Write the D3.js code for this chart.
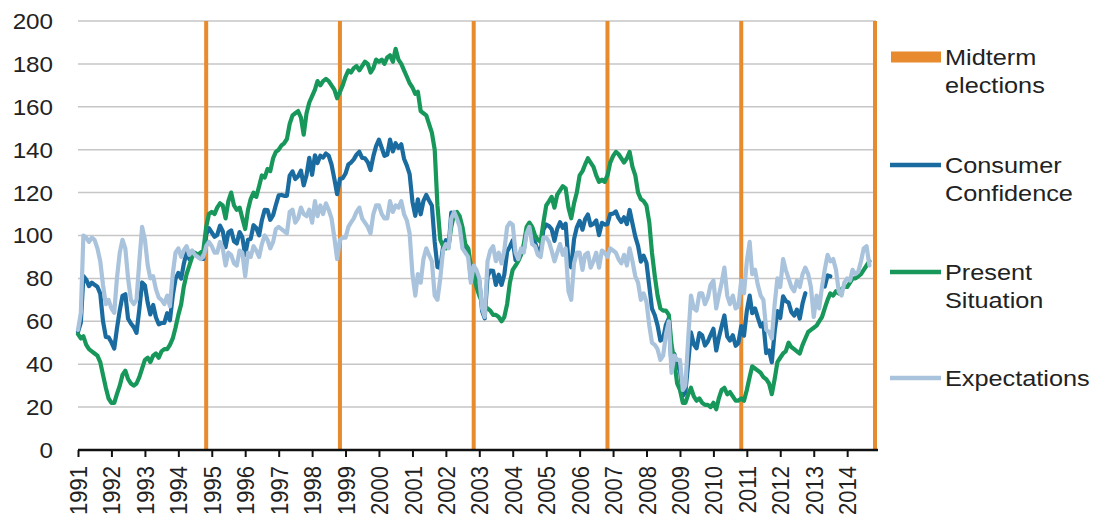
<!DOCTYPE html>
<html>
<head>
<meta charset="utf-8">
<script src="https://cdn.jsdelivr.net/npm/d3@7"></script>
<style>
  body { margin: 0; background: #fff; }
  svg { display: block; }
  text { font-family: "Liberation Sans", Arial, sans-serif; fill: #222; }
</style>
</head>
<body>
<svg id="chart" width="1095" height="523"></svg>
<script>
// Monthly index readings, January 1991 onwards (one row per year).
const firstYear = 1991;

const consumerConfidence = [
  55.1, 59.4, 81.1, 79.4, 76.4, 78.0, 77.0, 76.1, 72.9, 60.1, 52.7, 52.5,
  50.2, 47.3, 56.5, 65.1, 71.9, 72.6, 61.2, 59.0, 57.3, 54.6, 65.6, 78.1,
  76.7, 68.5, 63.2, 67.6, 61.9, 58.6, 59.2, 59.3, 63.8, 60.5, 71.9, 79.8,
  82.6, 79.9, 86.7, 92.1, 88.9, 92.5, 91.3, 90.4, 89.5, 89.1, 100.4, 103.4,
  101.4, 99.4, 100.2, 104.6, 102.0, 94.6, 101.4, 102.4, 97.3, 96.3, 101.6, 99.2,
  91.0, 98.0, 98.4, 104.8, 103.5, 100.1, 107.0, 112.0, 111.8, 107.3, 109.5, 114.2,
  118.7, 118.9, 118.5, 118.5, 127.9, 129.9, 126.3, 127.6, 130.2, 123.4, 128.1, 136.2,
  128.3, 137.4, 133.8, 137.2, 136.3, 138.2, 137.2, 133.1, 126.4, 119.3, 126.4, 126.7,
  128.9, 133.1, 134.0, 135.5, 137.7, 139.0, 136.2, 136.0, 134.2, 130.5, 137.0, 141.7,
  144.7, 140.8, 137.1, 137.7, 144.7, 139.2, 143.0, 140.8, 142.5, 135.8, 132.6, 128.6,
  115.7, 109.2, 116.9, 109.9, 116.1, 118.9, 116.3, 114.0, 97.0, 85.3, 84.9, 94.6,
  97.8, 95.0, 110.7, 108.5, 110.3, 106.3, 97.4, 94.5, 93.7, 79.6, 84.9, 80.3,
  78.8, 64.8, 61.4, 81.0, 83.6, 83.5, 77.0, 81.7, 77.0, 81.7, 92.5, 94.8,
  97.7, 88.5, 88.5, 93.0, 93.1, 102.8, 105.7, 98.7, 96.7, 92.9, 92.6, 102.7,
  105.1, 104.4, 103.0, 97.5, 103.1, 106.2, 103.6, 105.5, 87.5, 85.2, 98.3, 103.8,
  106.8, 102.7, 107.5, 109.8, 104.7, 105.4, 107.0, 100.2, 105.9, 105.1, 105.3, 110.0,
  110.2, 111.2, 108.2, 106.3, 108.5, 105.3, 111.9, 105.6, 99.5, 95.2, 87.8, 90.6,
  87.3, 76.4, 65.9, 62.8, 58.1, 51.0, 51.9, 58.5, 61.4, 38.8, 44.7, 38.6,
  37.4, 25.3, 26.9, 40.8, 54.8, 49.3, 47.4, 54.5, 53.4, 48.7, 50.6, 53.6,
  56.5, 46.4, 52.3, 57.7, 62.7, 52.9, 51.0, 53.5, 48.6, 49.9, 57.8, 53.3,
  64.8, 72.0, 63.8, 66.0, 61.7, 57.6, 59.2, 45.2, 46.4, 40.9, 55.2, 64.8,
  61.5, 71.6, 69.5, 68.7, 64.4, 62.7, 65.4, 61.3, 68.4, 73.1, null, null,
  null, null, null, null, 76.2, 81.4, 81.0, null, null, null, null, null,
  null, null, null, null, null, null, null, null, null
];

const presentSituation = [
  54, 52, 53, 49, 47, 46, 45, 44, 41, 35, 29, 24,
  22, 22, 26, 30, 35, 37, 33, 31, 30, 31, 34, 38,
  42, 43, 41, 44, 45, 43, 46, 47, 47, 49, 52, 57,
  63, 68, 76, 82, 86, 90, 92, 91, 92, 93, 104, 110,
  111, 110, 113, 115, 114, 108, 116, 120, 114, 112, 113, 108,
  103, 112, 117, 120, 118, 123, 128, 127, 131, 130, 136, 139,
  140, 142, 143, 145, 152, 156, 157, 158, 155, 147, 157, 162,
  165, 168, 172, 170, 172, 173, 172, 170, 168, 164, 167, 170,
  174, 177, 176, 178, 179, 177, 179, 181, 180, 176, 178, 182,
  181, 182, 180, 183, 184, 181, 187, 182, 180, 177, 174, 171,
  169, 166, 167, 158, 157, 156, 152, 148, 140, 114, 98, 95,
  94, 96, 104, 110, 111, 109, 104, 96, 94, 86, 82, 76,
  72, 69, 67, 66, 65, 63, 63, 62, 60, 62, 68, 78,
  84, 86, 88, 91, 96, 104, 106, 104, 100, 98, 97, 106,
  114, 116, 118, 113, 119, 121, 123, 122, 113, 108, 115, 120,
  128, 130, 133, 136, 134, 132, 128, 125, 126, 125, 128, 134,
  137, 139, 138, 136, 134, 136, 139, 132, 128, 120, 117, 116,
  114, 106, 92, 81, 72, 66, 65, 65, 63, 49, 41, 31,
  28, 22, 22, 26, 29, 25, 23, 24, 22, 21, 21, 20,
  22, 19, 24, 28, 29, 26, 27, 25, 23, 23, 24, 23,
  28, 34, 39, 38, 37, 36, 34, 33, 31, 26, 33, 41,
  43, 45, 46, 50, 48, 47, 46, 45, 49, 52, 55, 56,
  57, 58, 60, 62, 66, 70, 73, 72, 74, 73, 75, 76,
  76, 78, 80, 80, 81, 82, 84, 86, 88
];

const expectations = [
  56, 64, 100, 99, 97, 99, 98, 94, 88, 77, 68, 70,
  66, 64, 80, 92, 98, 94, 80, 70, 68, 70, 88, 104,
  98, 86, 80, 81, 75, 71, 70, 68, 72, 67, 82, 92,
  94, 90, 93, 95, 91, 93, 91, 90, 89, 90, 95, 97,
  95, 92, 92, 97, 94, 86, 92, 91, 87, 86, 93, 92,
  81, 92, 90, 95, 93, 90, 96, 100, 98, 94, 97, 103,
  104, 103, 102, 101, 111, 112, 106, 108, 113, 110, 109, 112,
  106, 116, 109, 114, 110, 115, 112, 108, 99, 89, 98, 99,
  99, 104, 106, 108, 111, 113, 108, 106, 104, 101, 110, 114,
  114, 110, 108, 108, 116, 111, 114, 113, 116, 110, 107, 101,
  82, 72, 82, 78, 89, 94, 91, 88, 72, 70, 80, 93,
  96, 94, 108, 111, 108, 104, 94, 92, 90, 78, 86, 84,
  80, 66, 62, 88, 93, 95, 88, 92, 87, 93, 104, 106,
  105, 92, 89, 94, 92, 101, 104, 96, 95, 91, 90, 99,
  99, 97, 93, 88, 92, 96, 91, 94, 74, 70, 87, 92,
  92, 84, 91, 92, 85, 88, 92, 85, 93, 92, 90, 94,
  93, 92, 89, 87, 91, 86, 94, 88, 81, 78, 70, 73,
  69, 58, 50, 49, 47, 42, 44, 54, 60, 36, 44, 42,
  42, 28, 30, 52, 72, 66, 65, 73, 73, 68, 71, 77,
  79, 66, 72, 78, 85, 72, 68, 72, 66, 67, 79, 73,
  88, 97, 82, 84, 77, 72, 70, 56, 55, 52, 68, 80,
  76, 89, 84, 80, 76, 74, 79, 76, 82, 85, 82, 76,
  62, 72, 66, 76, 84, 91, 88, 89, 84, 74, 72, 78,
  80, 79, 84, 82, 83, 88, 94, 95, 86
];

// Months of the US midterm elections
const midtermElections = ["1994-11", "1998-11", "2002-11", "2006-11", "2010-11", "2014-11"];

const yearTicks = [1991, 1992, 1993, 1994, 1995, 1996, 1997, 1998, 1999, 2000, 2001, 2002,
                   2003, 2004, 2005, 2006, 2007, 2008, 2009, 2010, 2011, 2012, 2013, 2014];
const valueTicks = [0, 20, 40, 60, 80, 100, 120, 140, 160, 180, 200];

const seriesNames = ["Consumer Confidence", "Present Situation", "Expectations"];
const seriesColors = ["#1a6b9f", "#17985a", "#a9c3dc"];
const midtermColor = "#e88a2e";

const svg = d3.select("#chart");
const parseMonth = d3.timeParse("%Y-%m");

const x = d3.scaleTime()
  .domain([new Date(1991, 0, 1), new Date(2014, 10, 1)])
  .range([78, 875]);
const y = d3.scaleLinear().domain([0, 200]).range([450, 21]);

const monthDate = i => new Date(firstYear, i, 1);

// Horizontal gridlines
svg.append("g")
  .selectAll("line")
  .data(valueTicks.filter(v => v > 0))
  .join("line")
  .attr("x1", 78).attr("x2", 876)
  .attr("y1", d => y(d)).attr("y2", d => y(d))
  .attr("stroke", "#c6c6c6").attr("stroke-width", 1.5);

// Y-axis labels (slightly wide face)
svg.append("g")
  .selectAll("text")
  .data(valueTicks)
  .join("text")
  .attr("transform", d => `translate(53,${y(d)}) scale(1.1,1)`)
  .attr("dy", "0.36em")
  .attr("text-anchor", "end")
  .attr("font-size", 22)
  .text(d => d);

// Midterm election markers
svg.append("g")
  .selectAll("line")
  .data(midtermElections.map(parseMonth))
  .join("line")
  .attr("x1", d => x(d)).attr("x2", d => x(d))
  .attr("y1", y(200)).attr("y2", y(0))
  .attr("stroke", midtermColor).attr("stroke-width", 4);

// Series lines
const seriesData = [consumerConfidence, presentSituation, expectations];
const line = d3.line()
  .defined(d => d != null)
  .x((d, i) => x(monthDate(i)))
  .y(d => y(d));

svg.append("g")
  .selectAll("path")
  .data(seriesData)
  .join("path")
  .attr("d", d => line(d))
  .attr("fill", "none")
  .attr("stroke", (d, i) => seriesColors[i])
  .attr("stroke-width", 4.2)
  .attr("stroke-linejoin", "round")
  .attr("stroke-linecap", "round");

// X axis
const xAxis = d3.axisBottom(x)
  .tickValues(yearTicks.map(yr => new Date(yr, 0, 1)))
  .tickSize(7)
  .tickSizeOuter(0)
  .tickFormat(d3.timeFormat("%Y"));

const gx = svg.append("g")
  .attr("transform", `translate(0,${y(0)})`)
  .call(xAxis);
gx.select(".domain").attr("stroke", "#111").attr("stroke-width", 2.5)
  .attr("d", `M78,0H878`);
gx.selectAll(".tick line").attr("stroke", "#111").attr("stroke-width", 2);
gx.selectAll(".tick text")
  .attr("font-size", 22)
  .attr("font-family", '"Liberation Sans", Arial, sans-serif')
  .attr("fill", "#222")
  .attr("text-anchor", "end")
  .attr("transform", "translate(0,16) rotate(-90) scale(1,1.08)")
  .attr("x", 0).attr("y", 0).attr("dy", "0.36em");

// Legend
const legend = svg.append("g");
const legendEntries = [
  { lines: ["Midterm", "elections"], color: midtermColor, y: 57, swatch: "bar" },
  { lines: [seriesNames[0].split(" ")[0], seriesNames[0].split(" ")[1]], color: seriesColors[0], y: 165, swatch: "line" },
  { lines: [seriesNames[1].split(" ")[0], seriesNames[1].split(" ")[1]], color: seriesColors[1], y: 272, swatch: "line" },
  { lines: [seriesNames[2]], color: seriesColors[2], y: 378, swatch: "line" }
];
legendEntries.forEach(e => {
  if (e.swatch === "bar") {
    legend.append("rect")
      .attr("x", 891).attr("y", e.y - 5.5)
      .attr("width", 50).attr("height", 11)
      .attr("fill", e.color);
  } else {
    legend.append("line")
      .attr("x1", 890).attr("x2", 941)
      .attr("y1", e.y).attr("y2", e.y)
      .attr("stroke", e.color).attr("stroke-width", 4.5);
  }
  e.lines.forEach((s, k) => {
    legend.append("text")
      .attr("transform", `translate(945,${e.y + k * 28.5}) scale(1.15,1)`)
      .attr("font-size", 22)
      .attr("dy", "0.36em")
      .text(s);
  });
});
</script>
</body>
</html>
